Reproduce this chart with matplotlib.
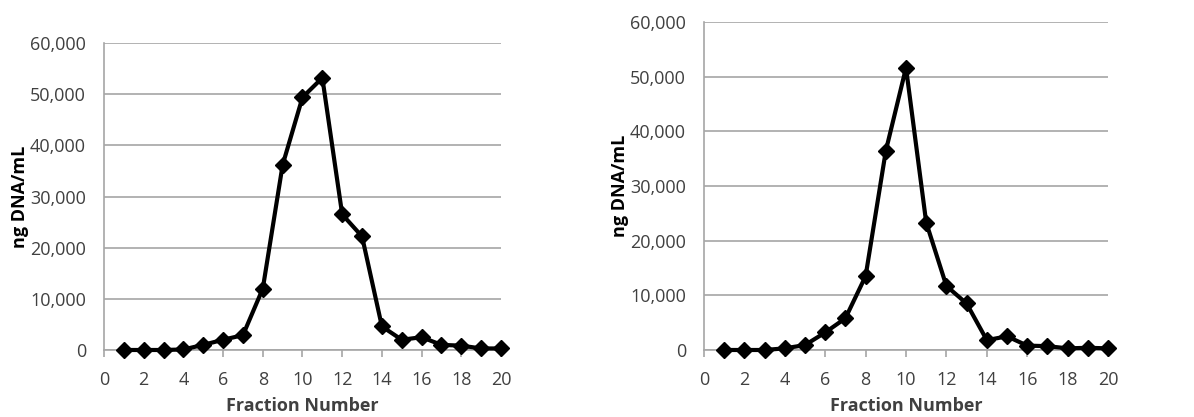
import numpy as np
import matplotlib
matplotlib.use('Agg')
import matplotlib.pyplot as plt
from matplotlib.ticker import FuncFormatter

# Fraction numbers and DNA concentration (ng/mL) for the two gradients
fractions = np.arange(1, 21)
left_dna = [0, 0, 0, 100, 1000, 2000, 2900, 12000, 36200, 49400,
            53200, 26500, 22200, 4600, 2000, 2500, 1000, 850, 300, 300]
right_dna = [0, 0, 0, 300, 900, 3200, 5800, 13500, 36400, 51600,
             23300, 11700, 8500, 1800, 2500, 800, 700, 300, 400, 300]

x_ticks = list(range(0, 21, 2))
y_ticks = list(range(0, 60001, 10000))

plt.rcParams['font.family'] = ['Open Sans', 'DejaVu Sans']

fig = plt.figure(figsize=(11.94, 4.17), dpi=100)
ax1 = fig.add_axes([0.0871, 0.1607, 0.3325, 0.736])
ax2 = fig.add_axes([0.5896, 0.1607, 0.3384, 0.787])

grid_col = '#a6a6a6'
text_col = '#404040'

for ax, vals in [(ax1, left_dna), (ax2, right_dna)]:
    ax.plot(fractions, vals, color='black', lw=3, marker='D',
            markersize=8.5, markerfacecolor='black', zorder=3, clip_on=False)
    ax.set_xlim(0, 20)
    ax.set_ylim(0, 60000)
    ax.set_xticks(x_ticks)
    ax.set_yticks(y_ticks)
    ax.yaxis.set_major_formatter(FuncFormatter(lambda v, p: f'{int(v):,}'))
    ax.grid(axis='y', color=grid_col, lw=1.2)
    ax.set_axisbelow(True)
    for s in ['top', 'right']:
        ax.spines[s].set_visible(False)
    for s in ['left', 'bottom']:
        ax.spines[s].set_color(grid_col)
        ax.spines[s].set_linewidth(1.2)
    ax.tick_params(axis='y', length=0, labelsize=13, labelcolor=text_col, pad=13)
    ax.tick_params(axis='x', length=5, color=grid_col, width=1.2,
                   labelsize=13, labelcolor=text_col, pad=10)
    ax.set_xlabel('Fraction Number', fontsize=13, fontweight='bold',
                  color=text_col, labelpad=6)
    ax.set_ylabel('ng DNA/mL', fontsize=13, fontweight='bold',
                  color='black', labelpad=1)

fig.savefig('out.png', dpi=100, facecolor='white')
